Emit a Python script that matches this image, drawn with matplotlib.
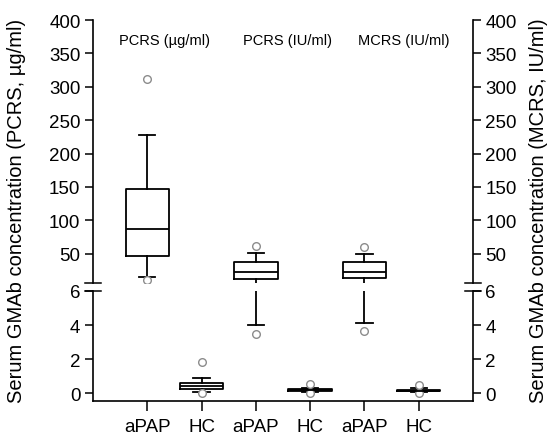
import matplotlib
matplotlib.use('Agg')
import matplotlib.pyplot as plt

plt.rcParams['font.family'] = ['Liberation Sans', 'DejaVu Sans']

# groups on the x axis
labels = ['aPAP', 'HC', 'aPAP', 'HC', 'aPAP', 'HC']
panel_titles = ['PCRS (\u00b5g/ml)', 'PCRS (IU/ml)', 'MCRS (IU/ml)']

# box statistics
q1 = [46.6, 0.24, 12.6, 0.10, 13.0, 0.09]
med = [87.4, 0.39, 22.6, 0.15, 22.0, 0.13]
q3 = [147.0, 0.57, 37.6, 0.22, 37.0, 0.20]
whislo = [15.5, 0.08, 4.0, 0.05, 4.1, 0.05]
whishi = [228.0, 0.88, 51.0, 0.30, 50.0, 0.28]
fliers = [[311.0, 11.0], [1.8, -0.02], [62.0, 3.5], [0.52, -0.02],
          [60.0, 3.65], [0.45, -0.02]]

positions = [1, 2, 3, 4, 5, 6]
BREAK = 6


def make_stats(keep):
    out = []
    for i in range(len(labels)):
        out.append(dict(med=med[i], q1=q1[i], q3=q3[i],
                        whislo=whislo[i], whishi=whishi[i],
                        fliers=[f for f in fliers[i] if keep(f)],
                        label=labels[i]))
    return out


fig = plt.figure(figsize=(5.52, 4.35), dpi=100)
L, R = 93 / 552, 473 / 552
ax_lo = fig.add_axes([L, 1 - 402 / 435, R - L, (402 - 292) / 435])
ax_hi = fig.add_axes([L, 1 - 284 / 435, R - L, (284 - 21) / 435])

box_kw = dict(positions=positions, widths=0.8, showfliers=True,
              boxprops=dict(color='black', linewidth=1.3),
              medianprops=dict(color='black', linewidth=1.3),
              whiskerprops=dict(color='black', linewidth=1.3),
              capprops=dict(color='black', linewidth=1.3),
              capwidths=0.3,
              flierprops=dict(marker='o', markersize=5.5,
                              markerfacecolor='white',
                              markeredgecolor='#8c8c8c',
                              markeredgewidth=1.0))

ax_lo.bxp(make_stats(lambda v: v < BREAK), **box_kw)
ax_hi.bxp(make_stats(lambda v: v > BREAK), **box_kw)

for ax in (ax_lo, ax_hi):
    ax.set_xlim(0, 7)
    ax.spines['top'].set_visible(False)
    for s in ('left', 'right', 'bottom'):
        ax.spines[s].set_linewidth(1.2)
    ax.tick_params(axis='y', which='both', left=True, right=True,
                   labelleft=True, labelright=True, direction='out',
                   length=6, width=1.1, labelsize=13.5, pad=3)

ax_lo.set_ylim(-0.47, 6)
ax_lo.set_yticks([0, 2, 4, 6])
ax_lo.set_xticks(positions)
ax_lo.set_xticklabels(labels)
ax_lo.tick_params(axis='x', direction='out', length=7, width=1.1,
                  labelsize=13.5, pad=5)

ax_hi.set_ylim(6, 400)
ax_hi.set_yticks([50, 100, 150, 200, 250, 300, 350, 400])
ax_hi.spines['bottom'].set_visible(False)
ax_hi.tick_params(axis='x', bottom=False, labelbottom=False)

# break marks on both vertical axes
for ax, yy in ((ax_lo, 1.0), (ax_hi, 0.0)):
    for xx in (0.0, 1.0):
        ax.plot([xx - 0.022, xx + 0.022], [yy, yy], color='black',
                linewidth=1.1, transform=ax.transAxes, clip_on=False)

# panel titles
for x, t in zip([1.31, 3.58, 5.73], panel_titles):
    ax_hi.text(x, 370, t, ha='center', va='center', fontsize=10.5)

fig.text(0.03, 1 - 211 / 435, 'Serum GMAb concentration (PCRS, \u00b5g/ml)',
         rotation=90, ha='center', va='center', fontsize=14.5)
fig.text(0.975, 1 - 211 / 435, 'Serum GMAb concentration (MCRS, IU/ml)',
         rotation=90, ha='center', va='center', fontsize=14.5)

fig.savefig('out.png', dpi=100)
